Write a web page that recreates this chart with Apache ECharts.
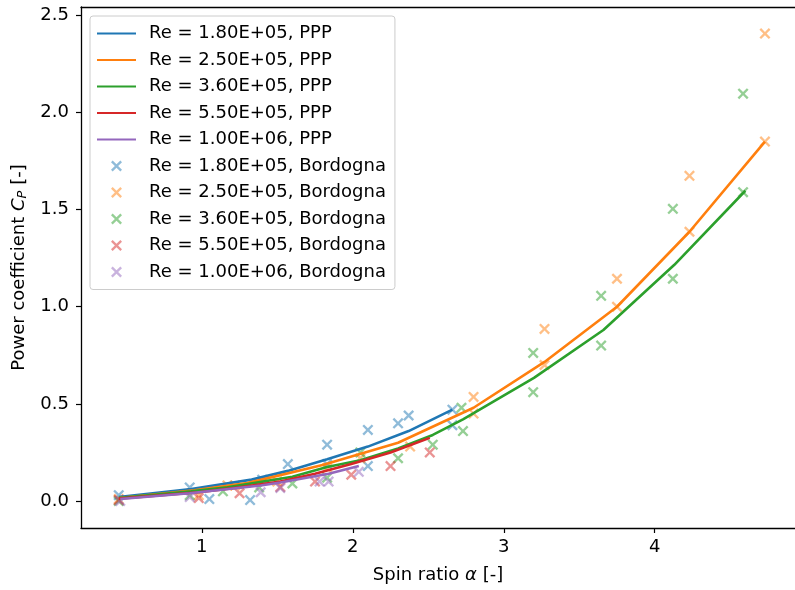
<!DOCTYPE html>
<html>
<head>
<meta charset="utf-8">
<script src="https://cdn.jsdelivr.net/npm/echarts@6/dist/echarts.min.js"></script>
<style>html,body{margin:0;padding:0;background:#fff}#c{width:795px;height:590px}</style>
</head>
<body>
<div id="c"></div>
<script>
// ---- data ----
const xTicks = [1, 2, 3, 4];
const yTicks = [0, 0.5, 1.0, 1.5, 2.0, 2.5];

const pppNames = ['Re = 1.80E+05, PPP','Re = 2.50E+05, PPP','Re = 3.60E+05, PPP','Re = 5.50E+05, PPP','Re = 1.00E+06, PPP'];
const bordNames = ['Re = 1.80E+05, Bordogna','Re = 2.50E+05, Bordogna','Re = 3.60E+05, Bordogna','Re = 5.50E+05, Bordogna','Re = 1.00E+06, Bordogna'];

// PPP lines
const ppp180x = [0.45, 0.93, 1.33, 1.57, 1.83, 2.10, 2.37, 2.66];
const ppp180y = [0.02, 0.062, 0.11, 0.155, 0.215, 0.28, 0.36, 0.47];
const ppp250x = [0.45, 0.95, 1.30, 1.80, 2.30, 2.80, 3.27, 3.75, 4.23, 4.73];
const ppp250y = [0.015, 0.055, 0.092, 0.185, 0.30, 0.48, 0.716, 1.0, 1.386, 1.85];
const ppp360x = [0.45, 0.93, 1.17, 1.60, 1.83, 2.05, 2.30, 2.53, 2.73, 3.20, 3.66, 4.13, 4.60];
const ppp360y = [0.015, 0.05, 0.07, 0.125, 0.175, 0.21, 0.27, 0.34, 0.42, 0.634, 0.88, 1.216, 1.597];
const ppp550x = [0.45, 0.98, 1.25, 1.52, 1.75, 1.99, 2.25, 2.51];
const ppp550y = [0.012, 0.045, 0.07, 0.10, 0.14, 0.19, 0.25, 0.325];
const ppp1000x = [0.46, 0.92, 1.39, 1.52, 1.84, 2.04];
const ppp1000y = [0.01, 0.04, 0.08, 0.095, 0.14, 0.18];

// Bordogna measurements
const bord180x = [0.45, 0.92, 1.05, 1.32, 1.40, 1.57, 1.83, 1.83, 2.10, 2.10, 2.30, 2.37, 2.66, 2.66];
const bord180y = [0.03, 0.07, 0.01, 0.005, 0.11, 0.19, 0.29, 0.19, 0.366, 0.18, 0.40, 0.44, 0.47, 0.39];
const bord250x = [0.45, 0.98, 1.17, 1.22, 1.50, 1.83, 2.05, 2.38, 2.80, 2.80, 3.27, 3.27, 3.75, 3.75, 4.23, 4.23, 4.73, 4.73];
const bord250y = [0.01, 0.03, 0.08, 0.08, 0.10, 0.17, 0.22, 0.28, 0.536, 0.45, 0.886, 0.70, 1.144, 1.0, 1.674, 1.386, 2.406, 1.85];
const bord360x = [0.45, 0.92, 1.14, 1.38, 1.60, 1.83, 2.05, 2.30, 2.53, 2.72, 2.73, 3.195, 3.195, 3.645, 3.645, 4.12, 4.12, 4.585, 4.585];
const bord360y = [0.0, 0.03, 0.05, 0.07, 0.09, 0.12, 0.25, 0.22, 0.29, 0.48, 0.36, 0.762, 0.56, 1.056, 0.80, 1.504, 1.144, 2.097, 1.59];
const bord550x = [0.45, 0.98, 1.25, 1.52, 1.75, 1.99, 2.25, 2.51];
const bord550y = [0.005, 0.015, 0.04, 0.072, 0.10, 0.135, 0.18, 0.25];
const bord1000x = [0.46, 0.92, 1.39, 1.52, 1.78, 1.84, 2.04];
const bord1000y = [0.0, 0.02, 0.045, 0.067, 0.10, 0.10, 0.15];

const colors = ['#1f77b4', '#ff7f0e', '#2ca02c', '#d62728', '#9467bd'];
const pppX = [ppp180x, ppp250x, ppp360x, ppp550x, ppp1000x];
const pppY = [ppp180y, ppp250y, ppp360y, ppp550y, ppp1000y];
const bordX = [bord180x, bord250x, bord360x, bord550x, bord1000x];
const bordY = [bord180y, bord250y, bord360y, bord550y, bord1000y];

const zip = (xs, ys) => xs.map((x, i) => [x, ys[i]]);
const FONT = 'DejaVu Sans';
const FS = 18;
const XMARK = 'path://M0,1.5 L1.5,0 L5,3.5 L8.5,0 L10,1.5 L6.5,5 L10,8.5 L8.5,10 L5,6.5 L1.5,10 L0,8.5 L3.5,5 Z';

const series = [];
for (let i = 0; i < 5; i++) {
  series.push({
    name: pppNames[i], type: 'line', data: zip(pppX[i], pppY[i]),
    symbol: 'none', showSymbol: false, smooth: false, z: 5,
    lineStyle: { color: colors[i], width: 2.6 }, itemStyle: { color: colors[i], opacity: 0 },
    animation: false
  });
}
for (let i = 0; i < 5; i++) {
  series.push({
    name: bordNames[i], type: 'scatter', data: zip(bordX[i], bordY[i]),
    symbol: XMARK, symbolSize: 11, z: 2,
    itemStyle: { color: colors[i], opacity: 0.5 },
    animation: false
  });
}

const legendData = pppNames.map(n => ({ name: n, itemStyle: { opacity: 0 } }))
  .concat(bordNames.map(n => ({ name: n })));

const chart = echarts.init(document.getElementById('c'), null, { renderer: 'canvas' });
chart.setOption({
  animation: false,
  textStyle: { fontFamily: FONT },
  grid: { left: 81, top: 7, width: 714, height: 521, show: false, outerBoundsMode: 'none', containLabel: false },
  legend: {
    orient: 'vertical', left: 90, top: 16,
    data: legendData,
    itemWidth: 39, itemHeight: 11, itemGap: 7.5,
    padding: [8, 9, 8, 6],
    borderColor: '#cccccc', borderWidth: 1, borderRadius: 3,
    backgroundColor: 'rgba(255,255,255,0.8)',
    textStyle: { fontFamily: FONT, fontSize: FS, color: '#000', lineHeight: 19, padding: [0, 0, 0, 8] }
  },
  xAxis: [{
    type: 'value', min: 0.2, max: 4.929,
    splitLine: { show: false },
    axisLine: { show: true, onZero: false, lineStyle: { color: '#000', width: 1.3 } },
    axisTick: { show: true, length: 5, lineStyle: { color: '#000', width: 1.2 }, customValues: xTicks },
    axisLabel: { customValues: xTicks, color: '#000', fontFamily: FONT, fontSize: FS, margin: 10 },
    name: '{n|Spin ratio }{i|α}{n| [-]}',
    nameLocation: 'middle', nameGap: 38,
    nameTextStyle: { rich: { n: { fontFamily: FONT, fontSize: FS, color: '#000' }, i: { fontFamily: FONT, fontSize: FS, fontStyle: 'italic', color: '#000' } } }
  }, {
    type: 'value', position: 'top', min: 0.2, max: 4.929,
    splitLine: { show: false }, axisTick: { show: false }, axisLabel: { show: false },
    axisLine: { show: true, onZero: false, lineStyle: { color: '#000', width: 1.3 } }
  }],
  yAxis: {
    type: 'value', min: -0.139, max: 2.543,
    splitLine: { show: false },
    axisLine: { show: true, onZero: false, lineStyle: { color: '#000', width: 1.3 } },
    axisTick: { show: true, length: 5, lineStyle: { color: '#000', width: 1.2 }, customValues: yTicks },
    axisLabel: { customValues: yTicks, color: '#000', fontFamily: FONT, fontSize: FS, margin: 12, formatter: v => v.toFixed(1) },
    name: '{n|Power coefficient }{i|C}{s|P}{n| [-]}',
    nameLocation: 'middle', nameGap: 47,
    nameTextStyle: { rich: {
      n: { fontFamily: FONT, fontSize: FS, color: '#000' },
      i: { fontFamily: FONT, fontSize: FS, fontStyle: 'italic', color: '#000' },
      s: { fontFamily: FONT, fontSize: 13, fontStyle: 'italic', color: '#000', padding: [8, 0, 0, 0] }
    } }
  },
  series: series
});
</script>
</body>
</html>
